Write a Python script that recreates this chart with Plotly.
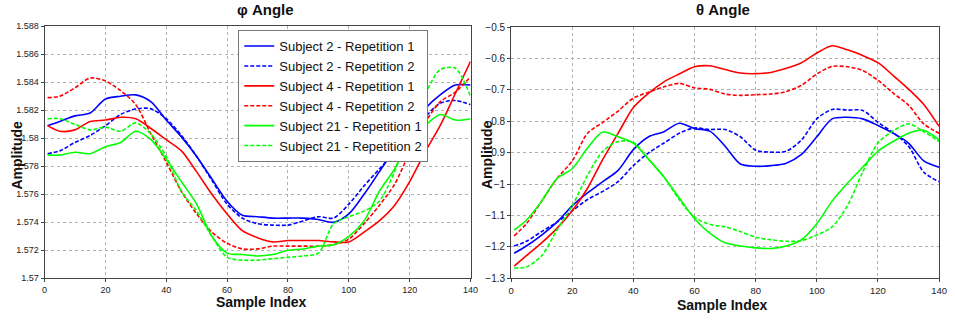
import plotly.graph_objects as go

x_idx = [1, 5, 10, 15, 20, 25, 30, 35, 40, 45, 50, 55, 60, 65, 70, 75, 80, 85, 90, 95,
         100, 105, 110, 115, 120, 125, 130, 135, 140]

# phi angle
phi_s2_r1 = [1.5809, 1.5812, 1.5816, 1.5818, 1.5828, 1.5830, 1.5831, 1.5826, 1.5813, 1.5801,
             1.5787, 1.5771, 1.5755, 1.5745, 1.5744, 1.5743, 1.5743, 1.5743, 1.5742, 1.5740,
             1.5746, 1.5760, 1.5776, 1.5792, 1.5807, 1.5821, 1.5831, 1.5838, 1.5838]
phi_s2_r2 = [1.5789, 1.5791, 1.5797, 1.5802, 1.5809, 1.5817, 1.5821, 1.5821, 1.5814, 1.5802,
             1.5787, 1.5770, 1.5753, 1.5743, 1.5739, 1.5738, 1.5738, 1.5741, 1.5744, 1.5743,
             1.5753, 1.5766, 1.5778, 1.5790, 1.5803, 1.5815, 1.5825, 1.5827, 1.5824]
phi_s4_r1 = [1.5809, 1.5805, 1.5806, 1.5812, 1.5813, 1.5815, 1.5814, 1.5807, 1.5799, 1.5791,
             1.5776, 1.5760, 1.5746, 1.5734, 1.5729, 1.5726, 1.5727, 1.5727, 1.5727, 1.5726,
             1.5726, 1.5733, 1.5741, 1.5752, 1.5769, 1.5790, 1.5809, 1.5832, 1.5855]
phi_s4_r2 = [1.5829, 1.5830, 1.5836, 1.5843, 1.5841, 1.5834, 1.5824, 1.5803, 1.5783, 1.5762,
             1.5746, 1.5733, 1.5725, 1.5721, 1.5721, 1.5723, 1.5723, 1.5723, 1.5723, 1.5724,
             1.5728, 1.5739, 1.5752, 1.5767, 1.5790, 1.5811, 1.5826, 1.5833, 1.5844]
phi_s21_r1 = [1.5788, 1.5788, 1.5790, 1.5789, 1.5794, 1.5797, 1.5805, 1.5799, 1.5785, 1.5769,
              1.5753, 1.5730, 1.5718, 1.5717, 1.5716, 1.5717, 1.5720, 1.5721, 1.5723, 1.5724,
              1.5730, 1.5741, 1.5762, 1.5778, 1.5799, 1.5809, 1.5817, 1.5813, 1.5814]
phi_s21_r2 = [1.5814, 1.5814, 1.5810, 1.5806, 1.5808, 1.5805, 1.5811, 1.5803, 1.5787, 1.5762,
              1.5748, 1.5730, 1.5715, 1.5713, 1.5713, 1.5714, 1.5715, 1.5716, 1.5718, 1.5739,
              1.5744, 1.5748, 1.5755, 1.5776, 1.5806, 1.5831, 1.5849, 1.5850, 1.5830]

# theta angle
th_s2_r1 = [-1.220, -1.197, -1.162, -1.121, -1.069, -1.028, -0.992, -0.956, -0.890, -0.849,
            -0.833, -0.806, -0.823, -0.831, -0.879, -0.936, -0.943, -0.941, -0.933, -0.905,
            -0.849, -0.792, -0.787, -0.792, -0.813, -0.838, -0.869, -0.926, -0.946]
th_s2_r2 = [-1.197, -1.182, -1.151, -1.121, -1.085, -1.049, -1.023, -0.992, -0.941, -0.900,
            -0.869, -0.838, -0.821, -0.826, -0.826, -0.849, -0.892, -0.898, -0.895, -0.859,
            -0.792, -0.762, -0.764, -0.765, -0.803, -0.836, -0.879, -0.962, -0.992]
th_s4_r1 = [-1.261, -1.228, -1.187, -1.141, -1.085, -1.013, -0.921, -0.838, -0.756, -0.710,
            -0.674, -0.649, -0.626, -0.623, -0.635, -0.646, -0.648, -0.644, -0.631, -0.613,
            -0.582, -0.559, -0.572, -0.590, -0.613, -0.654, -0.697, -0.746, -0.816]
th_s4_r2 = [-1.165, -1.126, -1.054, -0.982, -0.926, -0.838, -0.803, -0.767, -0.726, -0.707,
            -0.690, -0.679, -0.693, -0.698, -0.713, -0.717, -0.715, -0.713, -0.705, -0.685,
            -0.649, -0.625, -0.626, -0.638, -0.669, -0.710, -0.748, -0.808, -0.838]
th_s21_r1 = [-1.146, -1.115, -1.054, -0.982, -0.951, -0.885, -0.834, -0.849, -0.869, -0.921,
             -0.977, -1.044, -1.110, -1.156, -1.187, -1.197, -1.203, -1.205, -1.197, -1.177,
             -1.126, -1.054, -0.997, -0.946, -0.895, -0.864, -0.838, -0.828, -0.859]
th_s21_r2 = [-1.267, -1.264, -1.228, -1.146, -1.069, -0.972, -0.895, -0.864, -0.867, -0.921,
             -0.977, -1.049, -1.105, -1.128, -1.136, -1.151, -1.169, -1.177, -1.182, -1.180,
             -1.162, -1.136, -1.069, -0.962, -0.869, -0.830, -0.808, -0.833, -0.864]

names = ["Subject 2 - Repetition 1", "Subject 2 - Repetition 2",
         "Subject 4 - Repetition 1", "Subject 4 - Repetition 2",
         "Subject 21 - Repetition 1", "Subject 21 - Repetition 2"]
colors = ["#0000FF", "#0000FF", "#FF0000", "#FF0000", "#00FF00", "#00FF00"]
dashes = ["solid", "4px,2px", "solid", "4px,2px", "solid", "4px,2px"]
phi_series = [phi_s2_r1, phi_s2_r2, phi_s4_r1, phi_s4_r2, phi_s21_r1, phi_s21_r2]
theta_series = [th_s2_r1, th_s2_r2, th_s4_r1, th_s4_r2, th_s21_r1, th_s21_r2]

fig = go.Figure()
for n, c, d, ys in zip(names, colors, dashes, phi_series):
    fig.add_trace(go.Scatter(x=x_idx, y=ys, mode="lines", name=n,
                             line=dict(color=c, dash=d, width=1.6, shape="spline", smoothing=0.8),
                             xaxis="x", yaxis="y", showlegend=True))
for n, c, d, ys in zip(names, colors, dashes, theta_series):
    fig.add_trace(go.Scatter(x=x_idx, y=ys, mode="lines", name=n,
                             line=dict(color=c, dash=d, width=1.6, shape="spline", smoothing=0.8),
                             xaxis="x2", yaxis="y2", showlegend=False))

W, H = 955, 322
def px_x(p):
    return p / W
def px_y(p):
    return 1 - p / H

FONT = "Liberation Sans Narrow, Liberation Sans, Arial"
axis_common = dict(showgrid=True, gridcolor="#b0b0b0", griddash="dot", gridwidth=1,
                   showline=True, linecolor="#444", linewidth=1, mirror=True,
                   ticks="outside", ticklen=3, tickcolor="#444", zeroline=False)

fig.update_layout(
    width=W, height=H, margin=dict(l=0, r=0, t=0, b=0),
    plot_bgcolor="white", paper_bgcolor="white",
    font=dict(family="Liberation Sans, Arial", color="#111"),
    xaxis=dict(domain=[px_x(42), px_x(473)], range=[0, 140], dtick=20, anchor="y",
               tickfont=dict(family=FONT, size=9, color="#222"), **axis_common),
    yaxis=dict(domain=[px_y(283), px_y(22)], range=[1.570, 1.588], anchor="x",
               tickvals=[1.570, 1.572, 1.574, 1.576, 1.578, 1.580, 1.582, 1.584, 1.586, 1.588],
               ticktext=["1.57", "1.572", "1.574", "1.576", "1.578", "1.58", "1.582", "1.584", "1.586", "1.588"],
               tickfont=dict(family=FONT, size=9, color="#222"), **axis_common),
    xaxis2=dict(domain=[px_x(514), px_x(947)], range=[0, 140], dtick=20, anchor="y2",
                tickfont=dict(family="Liberation Sans, Arial", size=9.5, color="#222"), **axis_common),
    yaxis2=dict(domain=[px_y(283), px_y(23)], range=[-1.3, -0.5], dtick=0.1, anchor="x2",
                tickfont=dict(family="Liberation Sans, Arial", size=10, color="#222"), **axis_common),
    legend=dict(x=px_x(238), y=px_y(26), xanchor="left", yanchor="top",
                bgcolor="white", bordercolor="#777", borderwidth=1,
                font=dict(family="Liberation Sans, Arial", size=13, color="#111"),
                tracegroupgap=0, itemwidth=30),
    showlegend=True,
)

ann = []
ann.append(dict(text="<b>φ Angle</b>", x=px_x(266), y=px_y(5)))
ann.append(dict(text="<b>θ Angle</b>", x=px_x(728), y=px_y(5)))
for a in ann:
    a["font"] = dict(size=15, family="Liberation Sans, Arial", color="#111")
for xc, yc in ((261, 308), (727, 311)):
    ann.append(dict(text="<b>Sample Index</b>", x=px_x(xc), y=px_y(yc),
                    font=dict(size=14, family="Liberation Sans, Arial", color="#111")))
for xc in (14, 489):
    ann.append(dict(text="<b>Amplitude</b>", x=px_x(xc), y=px_y(155), textangle=-90,
                    font=dict(size=14, family="Liberation Sans, Arial", color="#111")))
for a in ann:
    a.update(xref="paper", yref="paper", showarrow=False, xanchor="center", yanchor="middle")
fig.update_layout(annotations=ann)

fig.write_html("out.html")
